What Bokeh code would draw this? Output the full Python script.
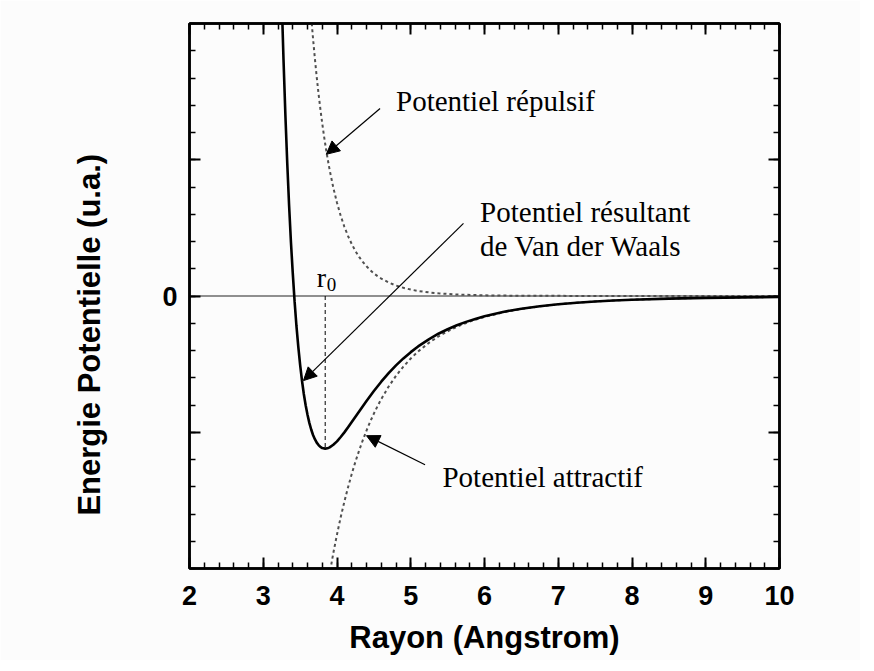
from bokeh.plotting import figure
from bokeh.models import (Range1d, LinearAxis, FixedTicker, Label, Arrow, NormalHead)
from bokeh.embed import file_html
from bokeh.resources import INLINE

# --- data ---
r_res = [3.25, 3.275, 3.30, 3.325, 3.35, 3.375, 3.40, 3.425, 3.45, 3.475, 3.50, 3.525, 3.55, 3.575,
         3.60, 3.625, 3.65, 3.675, 3.70, 3.725, 3.75, 3.775, 3.80, 3.84, 3.87, 3.90, 3.95, 4.00,
         4.05, 4.10, 4.15, 4.20, 4.25, 4.30, 4.40, 4.50, 4.60, 4.70, 4.80, 4.90, 5.00, 5.10,
         5.25, 5.375, 5.50, 5.625, 5.75, 5.875, 6.00, 6.25, 6.50, 6.75, 7.00, 7.25, 7.50, 7.75,
         8.00, 8.50, 9.00, 9.50, 10.00]
e_res = [2.18, 1.73, 1.33, 0.98, 0.67, 0.40, 0.17, -0.04, -0.22, -0.372, -0.505, -0.620, -0.719, -0.802,
         -0.872, -0.931, -0.980, -1.020, -1.051, -1.076, -1.094, -1.108, -1.116, -1.120, -1.118, -1.111, -1.092, -1.067,
         -1.035, -1.001, -0.964, -0.925, -0.886, -0.847, -0.770, -0.697, -0.629, -0.566, -0.509, -0.458, -0.412, -0.370,
         -0.316, -0.277, -0.244, -0.215, -0.190, -0.168, -0.148, -0.117, -0.093, -0.075, -0.060, -0.049, -0.040, -0.033,
         -0.027, -0.019, -0.0135, -0.0098, -0.0072]

r_rep = [3.62, 3.65, 3.675, 3.70, 3.725, 3.75, 3.775, 3.80, 3.825, 3.85, 3.875, 3.90, 3.95, 4.00,
         4.05, 4.10, 4.15, 4.20, 4.25, 4.30, 4.35, 4.40, 4.45, 4.50, 4.55, 4.60, 4.70, 4.80,
         4.90, 5.00, 5.10, 5.25, 5.375, 5.50, 5.625, 5.75, 5.875, 6.00, 6.25, 6.50, 7.00, 8.00, 10.00]
e_rep = [2.265, 2.051, 1.890, 1.743, 1.607, 1.483, 1.370, 1.266, 1.170, 1.082, 1.001, 0.926, 0.795, 0.684,
         0.589, 0.508, 0.440, 0.381, 0.330, 0.287, 0.250, 0.218, 0.190, 0.166, 0.146, 0.128, 0.099, 0.077,
         0.060, 0.047, 0.037, 0.026, 0.020, 0.015, 0.011, 0.009, 0.007, 0.005, 0.003, 0.002, 0.001, 0.0, 0.0]

r_att = [3.88, 3.95, 4.00, 4.05, 4.10, 4.15, 4.20, 4.25, 4.30, 4.35, 4.40, 4.45, 4.50, 4.55,
         4.60, 4.70, 4.80, 4.90, 5.00, 5.10, 5.25, 5.375, 5.50, 5.625, 5.75, 5.875, 6.00, 6.25,
         6.50, 6.75, 7.00, 7.25, 7.50, 7.75, 8.00, 8.50, 9.00, 9.50, 10.00]
e_att = [-2.101, -1.887, -1.750, -1.624, -1.509, -1.403, -1.306, -1.216, -1.134, -1.058, -0.988, -0.923, -0.863, -0.808,
         -0.757, -0.665, -0.586, -0.518, -0.459, -0.407, -0.342, -0.297, -0.259, -0.226, -0.198, -0.174, -0.154, -0.120,
         -0.095, -0.076, -0.061, -0.049, -0.040, -0.033, -0.027, -0.019, -0.0135, -0.0098, -0.0072]

r0 = 3.84
e_min = -1.12

x_ticks = [2, 3, 4, 5, 6, 7, 8, 9, 10]
y_ticks = [-1, 0, 1]
y_tick_labels = {-1: "", 0: "0", 1: ""}

BG = "#fcfcfc"
SERIF = "Liberation Serif"
SANS = "Liberation Sans"

p = figure(width=860, height=660, output_backend="svg", toolbar_location=None,
           x_range=Range1d(2, 10), y_range=Range1d(-2, 2),
           min_border_left=189, min_border_right=81, min_border_top=23, min_border_bottom=92,
           x_axis_location=None, y_axis_location=None)
p.background_fill_color = BG
p.border_fill_color = BG
p.grid.visible = False
p.outline_line_color = "black"
p.outline_line_width = 2.5

x_minor = [round(2 + 0.2 * i, 1) for i in range(41)]
y_minor = [round(-2 + 0.2 * i, 1) for i in range(21)]


def style_axis(ax):
    ax.axis_line_width = 2.5
    ax.axis_line_color = "black"
    ax.major_tick_in = 11
    ax.major_tick_out = 0
    ax.minor_tick_in = 6
    ax.minor_tick_out = 0
    ax.major_tick_line_width = 2
    ax.minor_tick_line_width = 1.5
    ax.major_tick_line_color = "black"
    ax.minor_tick_line_color = "black"
    ax.major_label_text_font = SANS
    ax.major_label_text_font_style = "bold"
    ax.major_label_text_font_size = "27px"
    ax.major_label_text_color = "black"
    ax.axis_label_text_font = SANS
    ax.axis_label_text_font_style = "bold"
    ax.axis_label_text_font_size = "31px"
    ax.axis_label_text_color = "black"


bx = LinearAxis(ticker=FixedTicker(ticks=x_ticks, minor_ticks=x_minor))
style_axis(bx)
bx.major_label_standoff = 17
bx.axis_label = "Rayon (Angstrom)"
bx.axis_label_standoff = 12
p.add_layout(bx, "below")

tx = LinearAxis(ticker=FixedTicker(ticks=x_ticks, minor_ticks=x_minor))
style_axis(tx)
tx.major_label_overrides = {t: "" for t in x_ticks}
p.add_layout(tx, "above")

ly = LinearAxis(ticker=FixedTicker(ticks=y_ticks, minor_ticks=y_minor))
style_axis(ly)
ly.major_label_overrides = y_tick_labels
ly.major_label_standoff = 12
ly.axis_label = "Energie Potentielle (u.a.)" + "\u00a0" * 9
ly.axis_label_standoff = 52
p.add_layout(ly, "left")

ry = LinearAxis(ticker=FixedTicker(ticks=y_ticks, minor_ticks=y_minor))
style_axis(ry)
ry.major_label_overrides = {t: "" for t in y_ticks}
p.add_layout(ry, "right")

# zero line
p.line([2, 10], [0, 0], line_color="#222222", line_width=1)

# curves
p.line(r_rep, e_rep, line_color="#505050", line_width=2, line_dash="3 3")
p.line(r_att, e_att, line_color="#505050", line_width=2, line_dash="3 3")
p.line(r_res, e_res, line_color="black", line_width=2.6)

# r0 marker
p.segment(x0=[r0], y0=[0], x1=[r0], y1=[e_min], line_color="black", line_width=1, line_dash="4 3")


def serif_label(x, y, txt, size="29px"):
    p.add_layout(Label(x=x, y=y, text=txt, text_font=SERIF, text_font_size=size,
                       text_color="black", text_baseline="alphabetic", text_align="left"))


serif_label(4.80, 1.433, "Potentiel répulsif")
serif_label(5.94, 0.613, "Potentiel résultant")
serif_label(5.94, 0.369, "de Van der Waals")
serif_label(5.43, -1.326, "Potentiel attractif")
serif_label(3.726, 0.136, "r", size="28px")
serif_label(3.862, 0.088, "0", size="19px")


def arrow(xs, ys, xe, ye):
    p.add_layout(Arrow(end=NormalHead(size=13, fill_color="black", line_color="black", line_width=1),
                       x_start=xs, y_start=ys, x_end=xe, y_end=ye,
                       line_color="black", line_width=1.2))


arrow(4.584, 1.376, 3.855, 1.04)
arrow(5.715, 0.533, 3.545, -0.621)
arrow(5.194, -1.238, 4.40, -1.025)

open("out.html", "w").write(file_html(p, INLINE))
